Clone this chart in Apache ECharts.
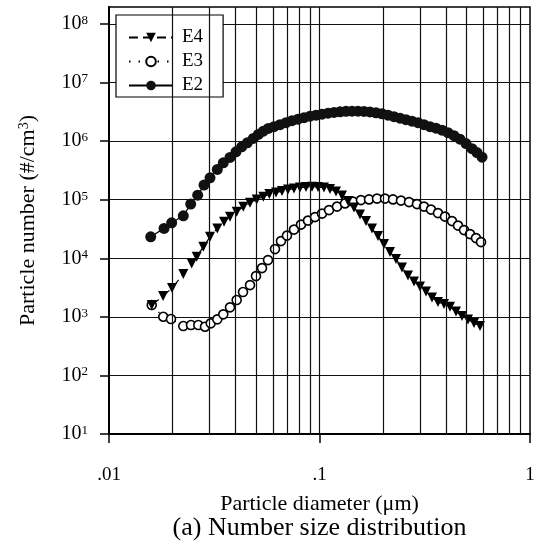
<!DOCTYPE html>
<html>
<head>
<meta charset="utf-8">
<script src="https://cdn.jsdelivr.net/npm/echarts@6/dist/echarts.min.js"></script>
<style>
  html, body { margin: 0; padding: 0; background: #fff; }
  #chart { width: 540px; height: 542px; }
</style>
</head>
<body>
<div id="chart"></div>
<script>
// Particle number size distributions for runs E2, E3 and E4
const seriesNames = ['E4', 'E3', 'E2'];

const e2Diameter = [0.01578, 0.01826, 0.01985, 0.02254, 0.02444, 0.02638, 0.02827, 0.03019, 0.03270, 0.03491,
  0.03757, 0.04011, 0.04268, 0.04539, 0.04847, 0.05122, 0.05408, 0.05713, 0.06078, 0.06492,
  0.06934, 0.07403, 0.07905, 0.08441, 0.09013, 0.09625, 0.1028, 0.1098, 0.1172, 0.1252,
  0.1336, 0.1427, 0.1524, 0.1627, 0.1737, 0.1855, 0.1981, 0.2115, 0.2259, 0.2412,
  0.2575, 0.2750, 0.2937, 0.3136, 0.3349, 0.3576, 0.3818, 0.4078, 0.4355, 0.4650,
  0.4966, 0.5302, 0.5601, 0.5916];
const e2Number = [23300, 32400, 40400, 53100, 84100, 119700, 177500, 236500, 328900, 426600,
  527000, 656000, 800000, 935000, 1112000, 1300000, 1482000, 1648000, 1768000, 1912000,
  2069000, 2238000, 2374000, 2518000, 2671000, 2778000, 2890000, 3005000, 3089000, 3162000,
  3225000, 3250000, 3250000, 3212000, 3150000, 3052000, 2935000, 2778000, 2619000, 2469000,
  2328000, 2194000, 2069000, 1912000, 1768000, 1667000, 1541000, 1397000, 1241000, 1082000,
  907000, 745000, 637000, 533000];

const e3Diameter = [0.01596, 0.01811, 0.01970, 0.02254, 0.02452, 0.02656, 0.02858, 0.03042, 0.03270, 0.03491,
  0.03757, 0.04042, 0.04331, 0.04677, 0.04992, 0.05332, 0.05693, 0.06146, 0.06562, 0.07007,
  0.07566, 0.08169, 0.08818, 0.09519, 0.1028, 0.1110, 0.1211, 0.1322, 0.1442, 0.1574,
  0.1719, 0.1876, 0.2047, 0.2235, 0.2439, 0.2662, 0.2905, 0.3136, 0.3386, 0.3655,
  0.3947, 0.4261, 0.4550, 0.4860, 0.5188, 0.5540, 0.5852];
const e3Number = [1590, 1004, 917, 697, 725, 725, 678, 775, 907, 1103,
  1452, 1935, 2650, 3488, 4968, 6805, 9318, 14350, 19660, 24400,
  30890, 37590, 43980, 50480, 57920, 66460, 76260, 86500, 92820, 98450,
  101200, 104400, 104400, 101200, 96520, 91000, 84130, 76260, 67790, 59060,
  51470, 43130, 36140, 30280, 25880, 22110, 18900];

const e4Diameter = [0.01596, 0.01806, 0.01992, 0.02254, 0.02471, 0.02609, 0.02805, 0.03019, 0.03270, 0.03518,
  0.03757, 0.04042, 0.04345, 0.04677, 0.05031, 0.05408, 0.05776, 0.06213, 0.06635, 0.07086,
  0.07566, 0.08080, 0.08628, 0.09213, 0.09838, 0.1050, 0.1122, 0.1198, 0.1279, 0.1366,
  0.1458, 0.1557, 0.1663, 0.1776, 0.1896, 0.2025, 0.2162, 0.2309, 0.2465, 0.2633,
  0.2811, 0.3002, 0.3206, 0.3423, 0.3655, 0.3903, 0.4169, 0.4451, 0.4753, 0.5076,
  0.5420, 0.5788];
const e4Number = [1590, 2264, 3101, 5376, 8185, 10610, 15710, 23270, 32370, 41970,
  51080, 62160, 75650, 88540, 101200, 112100, 124600, 132200, 140300, 148700,
  154700, 160900, 164100, 166000, 164100, 160900, 151700, 137500, 117500, 94650,
  73320, 55690, 43130, 32120, 23920, 17470, 12760, 9690, 6939, 5068,
  4003, 3289, 2702, 2135, 1789, 1653, 1487, 1231, 1032, 899,
  784, 697];

// Axis ticks and the extra vertical grid lines at 2..9 of each decade
const xTickValues = [0.01, 0.1, 1];
const xTickLabels = ['.01', '.1', '1'];
const yTickExponents = ['1', '2', '3', '4', '5', '6', '7', '8'];
const xGridLines = [0.02, 0.03, 0.04, 0.05, 0.06, 0.07, 0.08, 0.09, 0.1,
  0.2, 0.3, 0.4, 0.5, 0.6, 0.7, 0.8, 0.9];

const FONT = 'Liberation Serif';
const zip = (xs, ys) => xs.map((x, i) => [x, ys[i]]);

const chart = echarts.init(document.getElementById('chart'), null, { renderer: 'canvas' });

const option = {
  backgroundColor: '#fff',
  animation: false,
  grid: [
    // frame of the plot (extends a little above 10^8)
    { left: 109, right: 10, top: 7, bottom: 108, show: true, borderColor: '#000', borderWidth: 1.5,
      backgroundColor: 'transparent' },
    // decade ticks 10^1 .. 10^8
    { left: 109, right: 10, top: 24, bottom: 108 }
  ],
  xAxis: [
    {
      type: 'log', logBase: 10, min: 0.01, max: 1, gridIndex: 0,
      axisLine: { show: true, onZero: false, lineStyle: { color: '#000', width: 2 } },
      axisTick: { show: true, inside: false, length: 9, lineStyle: { color: '#000', width: 1.5 } },
      axisLabel: {
        margin: 32, color: '#000', fontFamily: FONT, fontSize: 19,
        formatter: v => {
          const i = xTickValues.findIndex(t => Math.abs(Math.log10(t) - Math.log10(v)) < 1e-6);
          return i >= 0 ? xTickLabels[i] : '';
        }
      },
      splitLine: { show: false },
      minorTick: { show: false }, minorSplitLine: { show: false }
    },
    { type: 'log', logBase: 10, min: 0.01, max: 1, gridIndex: 1, show: false }
  ],
  yAxis: [
    {
      type: 'log', logBase: 10, min: 10, max: Math.pow(10, 8.2902), gridIndex: 0,
      axisLine: { show: true, onZero: false, lineStyle: { color: '#000', width: 2 } },
      axisTick: { show: false }, axisLabel: { show: false }, splitLine: { show: false },
      name: 'Particle number (#/cm{sup|3})',
      nameLocation: 'middle', nameGap: 70, nameRotate: 90,
      nameTextStyle: {
        color: '#000', fontFamily: FONT, fontSize: 22,
        rich: { sup: { fontFamily: FONT, fontSize: 14, color: '#000', verticalAlign: 'top', lineHeight: 14 } }
      }
    },
    {
      type: 'log', logBase: 10, min: 10, max: 1e8, gridIndex: 1,
      axisLine: { show: false },
      axisTick: { show: true, inside: false, length: 9, lineStyle: { color: '#000', width: 1.5 } },
      axisLabel: {
        margin: 21, color: '#000',
        formatter: v => {
          const e = String(Math.round(Math.log10(v)));
          return yTickExponents.includes(e) ? '{b|10}{s|' + e + '}' : '';
        },
        rich: {
          b: { fontFamily: FONT, fontSize: 20, color: '#000', lineHeight: 20 },
          s: { fontFamily: FONT, fontSize: 13, color: '#000', verticalAlign: 'top', lineHeight: 14 }
        }
      },
      splitLine: { show: true, lineStyle: { color: '#111', width: 1.2 } }
    }
  ],
  legend: {
    data: seriesNames,
    orient: 'vertical',
    left: 116, top: 15,
    padding: [13, 20, 2, 12],
    itemGap: 5,
    itemWidth: 44, itemHeight: 12,
    backgroundColor: '#fff',
    borderColor: '#000', borderWidth: 1.2, borderRadius: 0,
    textStyle: { color: '#000', fontFamily: FONT, fontSize: 19, padding: [0, 0, 0, 4] },
    selectedMode: false
  },
  graphic: [
    { type: 'text', x: 319.5, y: 504, style: { text: 'Particle diameter (\u03bcm)', fill: '#000',
      font: '22px "Liberation Serif"', textAlign: 'center', textVerticalAlign: 'middle' } },
    { type: 'text', x: 319.5, y: 528, style: { text: '(a) Number size distribution', fill: '#000',
      font: '26px "Liberation Serif"', textAlign: 'center', textVerticalAlign: 'middle' } }
  ],
  series: [
    {
      // vertical grid lines drawn beneath the data
      name: 'grid lines', type: 'line', xAxisIndex: 0, yAxisIndex: 0, data: [], z: 1,
      markLine: {
        silent: true, symbol: ['none', 'none'], animation: false,
        label: { show: false },
        lineStyle: { color: '#111', width: 1.2, type: 'solid' },
        emphasis: { disabled: true },
        data: xGridLines.map(v => ({ xAxis: v }))
      }
    },
    {
      name: 'E3', type: 'line', xAxisIndex: 0, yAxisIndex: 0, z: 3,
      data: zip(e3Diameter, e3Number),
      showSymbol: true, showAllSymbol: true,
      symbol: 'circle', symbolSize: 9,
      itemStyle: { color: '#fff', borderColor: '#000', borderWidth: 1.6 },
      lineStyle: { color: '#000', width: 1.2, type: [1.5, 8] },
      emphasis: { disabled: true }
    },
    {
      name: 'E4', type: 'line', xAxisIndex: 0, yAxisIndex: 0, z: 4,
      data: zip(e4Diameter, e4Number),
      showSymbol: true, showAllSymbol: true,
      symbol: 'triangle', symbolRotate: 180, symbolSize: 10,
      itemStyle: { color: '#000' },
      lineStyle: { color: '#000', width: 1.2, type: [9, 5] },
      emphasis: { disabled: true }
    },
    {
      name: 'E2', type: 'line', xAxisIndex: 0, yAxisIndex: 0, z: 5,
      data: zip(e2Diameter, e2Number),
      showSymbol: true, showAllSymbol: true,
      symbol: 'circle', symbolSize: 11,
      itemStyle: { color: '#111' },
      lineStyle: { color: '#000', width: 1.2, type: 'solid' },
      emphasis: { disabled: true }
    }
  ]
};

chart.setOption(option);
</script>
</body>
</html>
